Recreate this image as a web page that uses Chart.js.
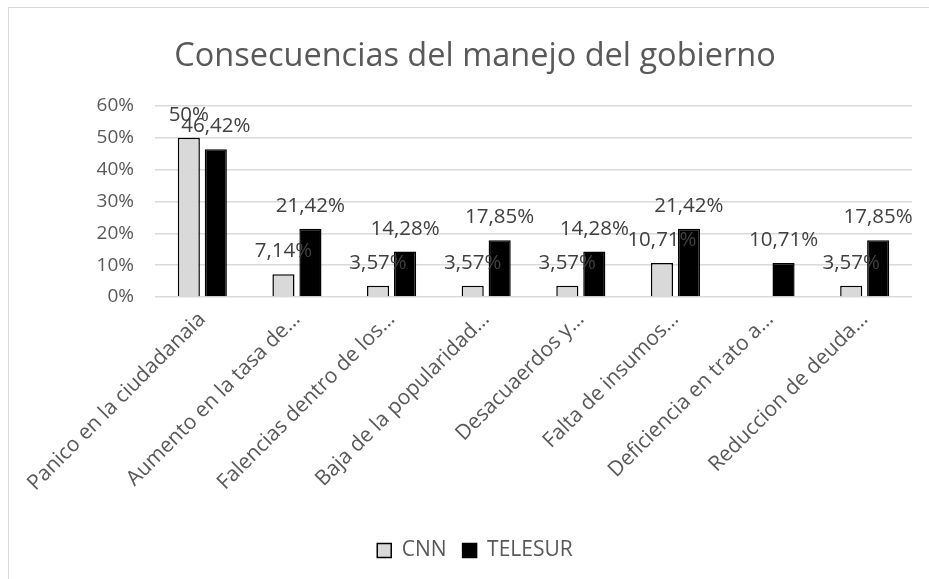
<!DOCTYPE html>
<html>
<head>
<meta charset="utf-8">
<script src="https://cdn.jsdelivr.net/npm/chart.js@4/dist/chart.umd.min.js"></script>
<style>
    html, body { margin: 0; padding: 0; background: #fff; }
    #wrap  { position: relative; width: 929px; height: 579px; overflow: hidden; }
    #frame { position: absolute; left: 8px; top: 7px; width: 1000px; height: 1000px;
             border-left: 1px solid #d9d9d9; border-top: 1px solid #d9d9d9; }
    canvas { position: absolute; left: 0; top: 0; }
</style>
</head>
<body>
<div id="wrap">
    <div id="frame"></div>
    <canvas id="chart" width="960" height="579"></canvas>
</div>
<script>
// ───── DATOS ─────
const CATEGORIAS = [
    "Panico en la ciudadanaia",
    "Aumento en la tasa de…",
    "Falencias dentro de los…",
    "Baja de la popularidad…",
    "Desacuaerdos y…",
    "Falta de insumos…",
    "Deficiencia en trato a…",
    "Reduccion de deuda…",
];
const CNN     = [50, 7.14, 3.57, 3.57, 3.57, 10.71, null, 3.57];
const TELESUR = [46.42, 21.42, 14.28, 17.85, 14.28, 21.42, 10.71, 17.85];
const Y_TICKS = [0, 10, 20, 30, 40, 50, 60];

const FONT  = "'Open Sans', 'DejaVu Sans', sans-serif";
const GRIS  = "#595959";

// etiquetas de datos encima de cada barra
const etiquetasPlugin = {
    id: "etiquetas",
    afterDatasetsDraw(chart) {
        const ctx = chart.ctx;
        ctx.save();
        ctx.font = "20.5px " + FONT;
        ctx.fillStyle = "#404040";
        ctx.textAlign = "center";
        ctx.textBaseline = "alphabetic";
        chart.data.datasets.forEach((ds, di) => {
            chart.getDatasetMeta(di).data.forEach((bar, i) => {
                const v = ds.data[i];
                if (v === null || v === undefined) return;
                const txt = String(v).replace(".", ",") + "%";
                ctx.fillText(txt, bar.x, bar.y - 17);
            });
        });
        ctx.restore();
    }
};

new Chart(document.getElementById("chart").getContext("2d"), {
    type: "bar",
    data: {
        labels: CATEGORIAS,
        datasets: [
            { label: "CNN",     data: CNN,     backgroundColor: "#d9d9d9", borderColor: "#000", borderWidth: 1.5 },
            { label: "TELESUR", data: TELESUR, backgroundColor: "#000",    borderColor: "#000", borderWidth: 1.5 },
        ]
    },
    options: {
        responsive: false, animation: false,
        categoryPercentage: 0.57, barPercentage: 0.82,
        layout: { padding: { left: 8, right: 18, top: 0, bottom: 8 } },
        plugins: {
            title: {
                display: true, text: "Consecuencias del manejo del gobierno",
                color: GRIS, font: { family: FONT, size: 32.5, weight: "normal" },
                padding: { top: 37, bottom: 30 }
            },
            legend: {
                position: "bottom",
                labels: { color: GRIS, font: { family: FONT, size: 21 }, boxWidth: 14, boxHeight: 14, padding: 16 }
            },
            tooltip: { enabled: false }
        },
        scales: {
            x: {
                grid: { display: false },
                border: { display: false },
                ticks: { color: GRIS, font: { family: FONT, size: 21 }, maxRotation: 45, minRotation: 45, autoSkip: false, padding: 2 },
                afterFit: s => { s.height = 227; }
            },
            y: {
                min: 0, max: 60,
                afterBuildTicks: s => { s.ticks = Y_TICKS.map(v => ({ value: v })); },
                grid: { color: "#d9d9d9", lineWidth: 1.5, drawTicks: false },
                border: { display: false },
                ticks: { color: GRIS, font: { family: FONT, size: 19 }, padding: 21, callback: v => v + "%" },
                afterFit: s => { s.width = 147; }
            },
            // eje vacío a la derecha: deja el título y la leyenda centrados como en el original
            yDer: {
                position: "right", display: true,
                grid: { display: false }, border: { display: false }, ticks: { display: false },
                afterFit: s => { s.width = 30; }
            }
        }
    },
    plugins: [etiquetasPlugin]
});
</script>
</body>
</html>
